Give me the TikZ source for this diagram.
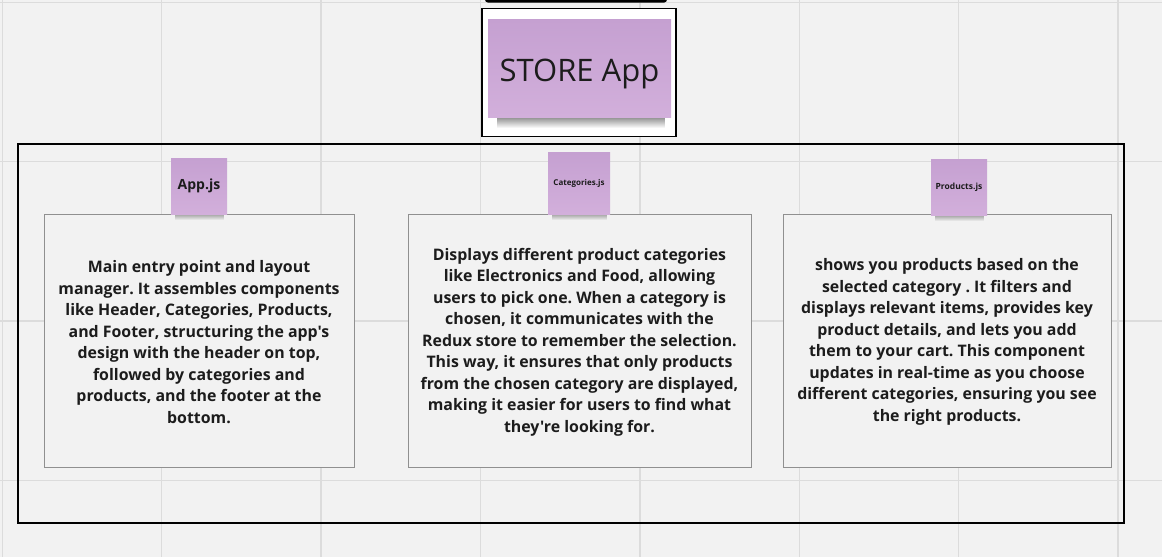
\documentclass[tikz,border=0pt]{standalone}
\usepackage{fontspec}
\setmainfont{Open Sans}[Ligatures=TeXOff]
\usetikzlibrary{fadings}

\definecolor{canvas}{HTML}{F2F2F2}
\definecolor{gridline}{HTML}{DCDCDC}
\definecolor{notetop}{HTML}{C5A0D1}
\definecolor{notebottom}{HTML}{D2AFDB}
\definecolor{ink}{HTML}{1C1C1C}
\definecolor{boxline}{HTML}{909090}

\tikzfading[name=fadedown, top color=transparent!35, bottom color=transparent!100]

\tikzset{
  note/.style={inner sep=0pt, top color=notetop, bottom color=notebottom,
    text=ink, font=\bfseries, align=center},
  descbox/.style={draw=boxline, line width=0.9pt, fill=canvas, inner sep=0pt},
  desctext/.style={text=ink, align=center, inner sep=0pt,
    font=\bfseries\fontsize{15.9}{21.5}\selectfont},
  noteshadow/.style={fill=black, path fading=fadedown}
}

\frenchspacing
\begin{document}
\begin{tikzpicture}[x=1pt, y=-1pt]
  \useasboundingbox (0,0) rectangle (1162,557);
  \fill[canvas] (0,0) rectangle (1162,557);

  % background grid
  \foreach \g in {2.3,161.7,321,480.4,639.8,799.2,958.6,1118} {
    \draw[gridline, line width=1.4pt] (\g,0) -- (\g,557);
  }
  \foreach \g in {2.3,161.7,321,480.4} {
    \draw[gridline, line width=1.4pt] (0,\g) -- (1162,\g);
  }

  % edge of the element above
  \fill[black, rounded corners=3pt] (485,-6) rectangle (667,2.6);

  % title card
  \node[draw=black, line width=1.3pt, fill=white, inner sep=0pt,
        minimum width=194pt, minimum height=128pt] (storeframe) at (579,72.3) {};
  \fill[noteshadow, opacity=0.75] (497,116) rectangle (665,128);
  \node[note, minimum width=183pt, minimum height=98pt] (store) at (579.5,68) {};
  \node[text=ink, font=\fontsize{31}{36}\selectfont, inner sep=0pt,
        anchor=base] (storetext) at (579.5,81) {STORE App};

  % group frame
  \node[draw=black, line width=1.6pt, inner sep=0pt,
        minimum width=1106pt, minimum height=379pt] (frame) at (571,333.5) {};

  % description boxes
  \node[descbox, minimum width=310pt, minimum height=253pt] (appbox) at (199,340.5) {};
  \node[descbox, minimum width=343pt, minimum height=253pt] (catbox) at (579.5,340.5) {};
  \node[descbox, minimum width=328pt, minimum height=253pt] (prodbox) at (947,340.5) {};

  \node[desctext] (apptext) at ([yshift=-1.5pt]appbox.center) {Main entry point and layout\\
    manager. It assembles components\\
    like Header, Categories, Products,\\
    and Footer, structuring the app's\\
    design with the header on top,\\
    followed by categories and\\
    products, and the footer at the\\
    bottom.};
  \node[desctext] (cattext) at ([yshift=-1.5pt]catbox.center) {Displays different product categories\\
    like Electronics and Food, allowing\\
    users to pick one. When a category is\\
    chosen, it communicates with the\\
    Redux store to remember the selection.\\
    This way, it ensures that only products\\
    from the chosen category are displayed,\\
    making it easier for users to find what\\
    they're looking for.};
  \node[desctext] (prodtext) at ([yshift=-1.5pt]prodbox.center) {shows you products based on the\\
    selected category . It filters and\\
    displays relevant items, provides key\\
    product details, and lets you add\\
    them to your cart. This component\\
    updates in real-time as you choose\\
    different categories, ensuring you see\\
    the right products.};

  % component notes
  \fill[noteshadow, opacity=0.6] (175,213) rectangle (224,220);
  \node[note, font=\bfseries\fontsize{14}{16}\selectfont,
        minimum width=56pt, minimum height=56pt] (appnote) at (199,186) {App.js};
  \fill[noteshadow, opacity=0.6] (552,213) rectangle (607,220);
  \node[note, font=\bfseries\fontsize{8}{10}\selectfont,
        minimum width=62pt, minimum height=62pt] (catnote) at (579,183) {Categories.js};
  \fill[noteshadow, opacity=0.6] (935,214) rectangle (984,221);
  \node[note, font=\bfseries\fontsize{8.5}{10}\selectfont,
        minimum width=56pt, minimum height=56pt] (prodnote) at (959,187) {Products.js};
\end{tikzpicture}
\end{document}
